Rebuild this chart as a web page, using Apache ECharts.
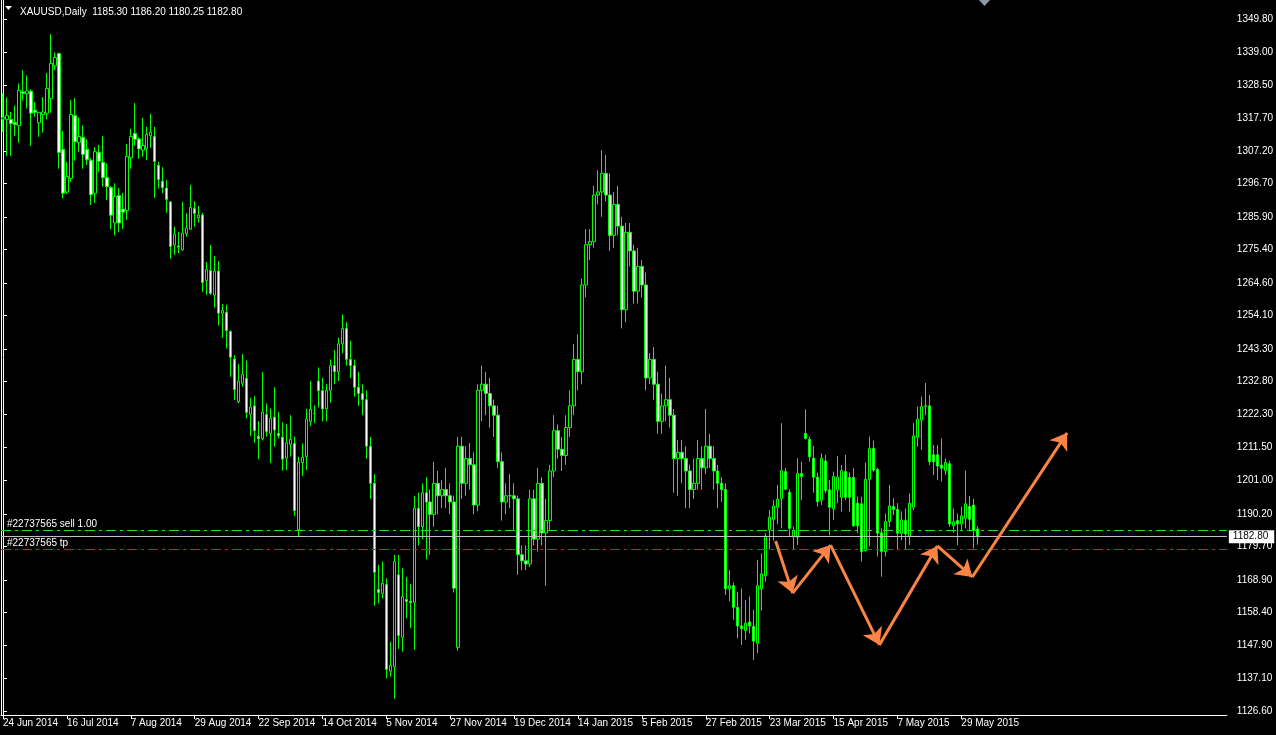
<!DOCTYPE html>
<html><head><meta charset="utf-8">
<script src="https://cdn.jsdelivr.net/npm/echarts@6/dist/echarts.min.js"></script>
<style>html,body{margin:0;padding:0;background:#000;overflow:hidden}#c{width:1276px;height:735px;}</style>
</head><body><div id="c"></div>
<script>
// ---- data ----
const symbolTitle = 'XAUUSD,Daily  1185.30 1186.20 1180.25 1182.80';
const startDate = '2014-06-24';
const skippedDays = ['2014-12-25', '2015-01-01', '2015-04-03'];
const barCount = 245;      // bars with data
const slotCount = 307;     // bars that fit in the window (chart shift)
const labelEvery = 16;

const openP = [
1317.5,1317.4,1317.4,1316.4,1315.4,1326.3,1325.7,1326.5,1320.4,1316.3,
1319.0,1319.4,1324.1,1334.7,1338.7,1307.8,1294.0,1298.4,1318.7,1309.9,
1311.6,1307.8,1304.2,1293.6,1306.8,1303.6,1298.7,1295.5,1284.0,1292.9,
1288.5,1288.0,1305.0,1312.9,1311.1,1307.5,1308.0,1312.2,1311.9,1302.6,
1297.5,1295.3,1290.8,1276.9,1276.6,1275.3,1280.6,1282.0,1288.7,1285.7,
1286.6,1265.4,1268.7,1260.7,1268.5,1254.9,1255.2,1249.0,1240.1,1226.4,
1232.3,1233.9,1222.3,1225.0,1215.2,1214.4,1222.3,1216.1,1221.4,1216.1,
1214.9,1208.1,1212.6,1212.9,1185.0,1206.7,1208.6,1219.9,1222.5,1233.0,
1229.9,1224,1230,1238,1236,1245,1250,1240,1238,1231,
1229,1227,1212,1200,1165.8,1164.5,1167.4,1139.4,1140.9,1170.5,
1150.3,1162.6,1162.0,1161.6,1192,1186,1197,1194,1190,1200,
1196,1198,1196,1194,1147.1,1212,1200,1208,1206,1193,
1230,1232,1229,1225,1222,1207,1194,1196,1196,1195,
1177,1175,1174,1195,1182,1200,1184,1188,1204,1217,
1211,1209,1218,1225,1240,1236,1264,1277,1278,1293,
1294,1300,1293,1280,1290,1283,1256,1281,1275,1262,
1270,1264,1234,1240,1232,1220,1225,1227,1222,1208,
1210,1208,1204,1198,1200,1208,1205,1212,1208,1204,
1200,1198,1166,1167,1160,1154.0,1152.5,1155.3,1153.8,1148.4,
1166.0,1170.2,1185.0,1188.4,1192.3,1195.1,1203.8,1197.1,1182.8,1182.6,
1203.2,1216.1,1214.2,1208.1,1202.0,1194.6,1207.2,1197.9,1191.8,1197.9,
1195.5,1203.8,1201.9,1201.9,1193.6,1193.4,1178.3,1201.3,1211.3,1204.5,
1184.1,1178.0,1187.7,1192.5,1191.6,1183.9,1188.0,1182.8,1192.3,1214.9,
1220.4,1224.8,1225.0,1209.2,1209.2,1205.9,1204.1,1206.3,1186.3,1188.0,
1186.9,1188.7,1192.5,1193.0,1185.30
];
const highP = [
1325.8,1324.5,1319.8,1321.9,1329.0,1333.3,1331.6,1327.1,1323.0,1319.8,
1324.6,1332.4,1344.9,1339.0,1338.9,1313.7,1303.7,1323.7,1324.3,1318.1,
1315.5,1311.0,1304.9,1308.5,1309.2,1312.0,1303.2,1295.8,1296.8,1295.3,
1293.7,1309.5,1314.4,1322.7,1311.6,1317.9,1315.0,1319.2,1315.0,1303.7,
1302.0,1297.9,1291.0,1282.8,1281.1,1290.8,1287.1,1296.3,1291.0,1289.5,
1287.3,1271.4,1276.9,1273.3,1271.7,1257.9,1257.6,1249.3,1241.4,1238.5,
1241.7,1239.6,1227.5,1228.2,1220.1,1235.9,1225.8,1224.2,1231.0,1223.0,
1219.7,1219.1,1222.0,1215.1,1208.6,1212.9,1224.1,1233.0,1225.2,1237.4,
1234,1232,1240,1243,1247,1254.5,1252,1246,1240,1236,
1232,1230,1215,1203,1173.7,1174.8,1169.4,1148.9,1176.9,1176.9,
1172.6,1169.8,1167.5,1196,1197,1200,1202,1198,1207,1204,
1201,1205,1200,1196,1215,1215,1212,1213,1210,1232,
1238,1236,1234,1227,1225,1210,1200,1203,1200,1196,
1180,1180,1198,1198,1205,1202,1195,1206,1222,1219,
1215,1222,1230,1245,1248,1266,1282,1282,1296,1301,
1307.5,1306,1300,1294,1296,1286,1284,1284,1277,1276,
1272,1268,1242,1244,1236,1229,1238,1234,1224,1214,
1214,1212,1206,1208,1214,1212,1224,1216,1212,1206,
1202,1200,1172,1168,1165,1166.1,1162.4,1163.5,1159.2,1175.3,
1177.4,1183.9,1191.4,1194.6,1199.5,1219.4,1204.9,1198.1,1186.0,1208.1,
1207.0,1223.9,1215.1,1212.1,1203.5,1209.7,1209.2,1201.1,1203.8,1208.8,
1205.9,1209.2,1203.5,1204.9,1195.7,1195.7,1206.7,1215.1,1213.8,1205.0,
1185.5,1190.3,1199.5,1195.2,1193.6,1190.9,1191.9,1196.8,1219.4,1224.8,
1228.0,1232.4,1228.5,1212.4,1212.4,1214.5,1208.1,1207.3,1191.9,1190.3,
1192.5,1204.1,1195.9,1195.0,1186.20
];
const lowP = [
1313.4,1305.6,1305.6,1312.1,1309.9,1323.5,1320.9,1308.9,1318.3,1311.8,
1313.1,1317.4,1319.6,1333.3,1301.5,1291.9,1293.3,1297.3,1304.1,1307.0,
1301.5,1302.7,1289.8,1290.5,1300.5,1295.7,1291.4,1282.0,1280.0,1281.0,
1282.0,1285.0,1301.5,1309.0,1304.7,1305.4,1304.3,1308.2,1292.1,1295.1,
1293.6,1287.3,1272.5,1273.7,1274.2,1275.1,1279.6,1281.7,1282.8,1284.1,
1261.8,1260.8,1260.8,1256.7,1250.9,1247.0,1243.5,1234.4,1226.9,1225.8,
1231.2,1221.0,1215.3,1213.1,1207.8,1213.8,1215.1,1206.5,1211.8,1214.5,
1204.1,1204.3,1208.6,1189.5,1182.8,1202.4,1204.3,1218.5,1219.4,1224.5,
1220,1220,1226,1232,1233,1242,1238,1234,1228,1225,
1222,1208,1195,1160.5,1161.3,1162.9,1137.1,1137.7,1130.5,1146.6,
1145.7,1156.5,1153.3,1146.3,1180,1182,1175.5,1177,1186,1190,
1192,1192,1190,1164.8,1146.0,1195,1196,1198,1190,1191,
1220,1222,1218,1215,1205,1188,1190,1192,1185,1170.5,
1172,1172,1173,1180,1178,1180,1167,1185,1202,1208,
1204,1206,1215,1222,1230,1232,1260,1272,1276,1290,
1286,1291,1275,1276,1280,1250,1252,1270,1258,1258,
1260,1230,1232,1227,1216,1216,1220,1218,1197,1196,
1200,1192,1192,1195,1198,1198,1203,1205,1198,1192,
1194,1164,1162,1156,1150,1147.9,1149.5,1151.6,1143.0,1145.2,
1159.0,1168.3,1178.7,1181.5,1186.9,1185.5,1197.9,1182.8,1178.5,1180.1,
1194.6,1214.2,1207.0,1197.0,1192.5,1193.0,1196.8,1183.3,1188.2,1193.6,
1190.9,1194.6,1190.9,1186.0,1183.9,1174.8,1178.0,1179.6,1203.8,1176.4,
1169.9,1176.4,1186.0,1189.8,1178.5,1181.7,1178.7,1180.1,1191.4,1211.8,
1210.8,1222.0,1205.9,1202.7,1201.1,1200.6,1202.7,1186.0,1184.1,1180.1,
1185.0,1185.5,1185.0,1179.0,1180.25
];
const closeP = [
1318.1,1318.7,1316.1,1315.8,1326.8,1325.8,1326.6,1319.4,1319.7,1319.7,
1319.8,1327.4,1335.5,1337.4,1306.7,1293.6,1299.0,1319.0,1310.2,1311.9,
1306.1,1304.4,1293.1,1307.0,1303.9,1298.6,1295.7,1286.5,1292.6,1284.0,
1287.5,1305.5,1311.9,1311.0,1307.9,1309.0,1312.6,1313.3,1303.8,1298.0,
1295.4,1291.6,1276.4,1280.4,1276.2,1280.8,1282.4,1289.0,1287.1,1286.6,
1264.8,1269.0,1261.3,1268.5,1254.9,1255.8,1249.3,1240.7,1230.3,1233.0,
1235.2,1222.9,1224.6,1217.0,1214.4,1223.0,1216.7,1221.0,1217.2,1215.4,
1207.8,1213.1,1214.2,1191.2,1206.9,1208.4,1220.8,1223.9,1222.6,1229.9,
1224,1230,1238,1236,1245,1250,1240,1238,1231,1229,
1227,1212,1200,1171.3,1164.8,1167.8,1140.0,1141.2,1174.8,1150.9,
1163.5,1161.9,1161.5,1192,1186,1197,1194,1190,1200,1196,
1198,1196,1194,1166.2,1212,1200,1208,1206,1193,1230,
1232,1229,1225,1222,1207,1194,1196,1196,1195,1177,
1175,1174,1195,1182,1200,1184,1188,1204,1217,1211,
1209,1218,1225,1240,1236,1264,1277,1278,1293,1294,
1300,1293,1280,1290,1283,1256,1281,1275,1262,1270,
1264,1234,1240,1232,1220,1225,1227,1222,1208,1210,
1208,1204,1198,1200,1208,1205,1212,1208,1204,1200,
1198,1166,1167,1160,1154,1153.1,1154.9,1154.0,1149.1,1167.0,
1170.8,1183.0,1189.1,1192.7,1194.9,1204.1,1198.1,1185.5,1184.8,1203.2,
1202.2,1214.5,1208.6,1202.0,1194.1,1208.1,1197.7,1192.3,1202.2,1202.0,
1204.1,1195.5,1195.5,1186.3,1186.3,1178.0,1201.3,1211.3,1204.3,1183.9,
1178.0,1187.7,1192.7,1191.6,1183.9,1188.2,1183.7,1193.6,1215.3,1220.7,
1224.8,1225.0,1207.0,1207.0,1205.6,1204.9,1206.8,1186.9,1187.6,1186.9,
1189.5,1193.4,1188.4,1184.8,1182.80
];

const yTickLabels = [1126.60,1137.10,1147.90,1158.40,1168.90,1179.70,1190.20,1201.00,1211.50,1222.30,1232.80,
  1243.30,1254.10,1264.60,1275.40,1285.90,1296.70,1307.20,1317.70,1328.50,1339.00,1349.80];
const priceMin = 1125.28, priceMax = 1355.93;

const sellPrice = 1184.85, sellLabel = '#22737565 sell 1.00';
const bidPrice = 1182.80;
const tpPrice = 1178.90, tpLabel = '#22737565 tp';

// orange hand-drawn path (bar index, price)
const arrowIdx   = [193.5, 197.75, 207.25, 219.5, 234.0, 242.75, 266.5];
const arrowPrice = [1181.4, 1164.6, 1180.1, 1147.9, 1179.8, 1169.8, 1216.3];

// ---- build ----
function buildDates(start, count, skip) {
  const M = ['Jan','Feb','Mar','Apr','May','Jun','Jul','Aug','Sep','Oct','Nov','Dec'];
  const out = [];
  let t = Date.parse(start + 'T00:00:00Z');
  while (out.length < count) {
    const d = new Date(t);
    const wd = d.getUTCDay();
    const iso = d.toISOString().slice(0, 10);
    if (wd !== 0 && wd !== 6 && skip.indexOf(iso) < 0) {
      out.push(d.getUTCDate() + ' ' + M[d.getUTCMonth()] + ' ' + d.getUTCFullYear());
    }
    t += 86400000;
  }
  return out;
}
const categories = buildDates(startDate, slotCount, skippedDays);
const candles = [];
for (let i = 0; i < barCount; i++) candles.push([openP[i], closeP[i], lowP[i], highP[i]]);
const segs = [];
for (let i = 0; i + 1 < arrowIdx.length; i++) {
  segs.push({ coords: [[arrowIdx[i], arrowPrice[i]], [arrowIdx[i + 1], arrowPrice[i + 1]]] });
}

const FONT = "'Liberation Sans',Arial,sans-serif";
const FS = 10;
const showLabel = (idx) => idx % labelEvery === 0 && idx < barCount;
const dashDot = [10, 4, 3, 4];

const chart = echarts.init(document.getElementById('c'), null, { renderer: 'canvas' });
chart.setOption({
  backgroundColor: '#000',
  animation: false,
  title: {
    text: symbolTitle, left: 15, top: 2,
    textStyle: { color: '#fff', fontSize: FS, fontWeight: 'normal', fontFamily: FONT }
  },
  graphic: [
    { type: 'polygon', shape: { points: [[5, 6], [12, 6], [8.5, 10]] }, style: { fill: '#fff' } },
    { type: 'polygon', shape: { points: [[979, 0], [990, 0], [984.5, 6]] }, style: { fill: '#8a98aa' } }
  ],
  grid: { left: 0, right: 48, top: 0, bottom: 20 },
  xAxis: [{
    type: 'category', data: categories, boundaryGap: true,
    axisLine: { show: true, lineStyle: { color: '#fff', width: 1 } },
    axisTick: { show: true, alignWithLabel: true, interval: showLabel, length: 4, lineStyle: { color: '#fff' } },
    axisLabel: { interval: showLabel, align: 'left', color: '#fff', fontSize: FS, margin: 3, fontFamily: FONT },
    splitLine: { show: false }
  }, {
    type: 'value', min: -0.5, max: slotCount - 0.5, show: false
  }],
  yAxis: [{
    type: 'value', position: 'right', min: priceMin, max: priceMax,
    axisLine: { show: true, lineStyle: { color: '#fff' } },
    axisTick: { show: true, customValues: yTickLabels, length: 4, lineStyle: { color: '#fff' } },
    axisLabel: { customValues: yTickLabels, formatter: (v) => Number(v).toFixed(2), color: '#fff', fontSize: FS, margin: 10, fontFamily: FONT },
    splitLine: { show: false }
  }, {
    type: 'value', position: 'left', min: priceMin, max: priceMax,
    axisLine: { show: true, lineStyle: { color: '#fff' } },
    axisTick: { show: false }, axisLabel: { show: false }, splitLine: { show: false }
  }],
  series: [{
    type: 'candlestick',
    xAxisIndex: 0, yAxisIndex: 0,
    data: candles,
    barWidth: 3,
    itemStyle: { color: '#000', color0: '#fff', borderColor: '#00ff00', borderColor0: '#00ff00', borderWidth: 1 },
    markLine: {
      silent: true, symbol: ['none', 'none'], animation: false,
      data: [
        { yAxis: sellPrice, lineStyle: { color: '#22dd22', type: dashDot, width: 1 },
          label: { show: true, position: 'insideStartTop', formatter: sellLabel, color: '#fff', fontSize: FS, fontFamily: FONT, distance: [6, 1] } },
        { yAxis: bidPrice, lineStyle: { color: '#c0c0c0', type: 'solid', width: 1 },
          label: { show: true, position: 'end', formatter: bidPrice.toFixed(2), color: '#000', backgroundColor: '#fff', padding: [2, 6, 1, 4], fontSize: FS, fontFamily: FONT, distance: 2 } },
        { yAxis: tpPrice, lineStyle: { color: '#ee1111', type: dashDot, width: 1 },
          label: { show: true, position: 'insideStartTop', formatter: tpLabel, color: '#fff', fontSize: FS, fontFamily: FONT, distance: [6, 1] } }
      ]
    }
  }, {
    type: 'lines', coordinateSystem: 'cartesian2d', xAxisIndex: 1, yAxisIndex: 0,
    data: segs, silent: true, z: 5,
    symbol: ['none', 'arrow'], symbolSize: 16,
    lineStyle: { color: '#fa8444', width: 3, opacity: 1 }
  }]
});
</script>
</body></html>
